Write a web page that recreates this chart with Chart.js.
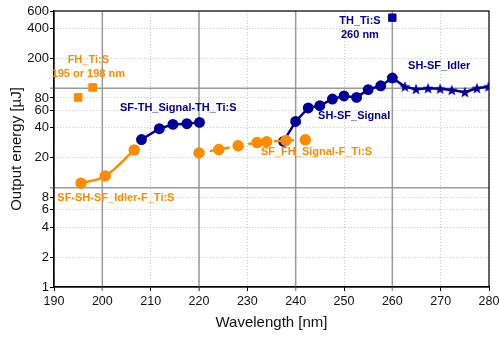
<!DOCTYPE html>
<html>
<head>
<meta charset="utf-8">
<script src="https://cdn.jsdelivr.net/npm/chart.js@4"></script>
<style>
  html, body { margin: 0; padding: 0; background: #fff; }
</style>
</head>
<body>
<canvas id="chart" width="499" height="338"></canvas>
<script>
// wavelength [nm] / output energy [uJ]
const fhX = [195, 198];
const fhY = [81, 102];
const thX = [260];
const thY = [514];
const idlerFX = [195.6, 200.6, 206.6];
const idlerFY = [11.1, 13.1, 24];
const signalTHX = [208.1, 211.8, 214.6, 217.5, 220.1];
const signalTHY = [30.5, 39.2, 43.3, 44, 45.4];
const signalFX = [220, 224.1, 228.1, 232, 234, 238, 242];
const signalFY = [22.3, 24.2, 26.4, 28.4, 29, 29.8, 30.3];
const signalSHX = [237.5, 240, 242.6, 245, 247.6, 250, 252.6, 255, 257.6, 260];
const signalSHY = [29.2, 46.4, 63.4, 67, 78, 83.8, 81, 97, 106, 127];
const idlerSHX = [260, 262.6, 264.9, 267.4, 269.9, 272.3, 275, 277.5, 279.9];
const idlerSHY = [127, 104, 98, 100, 99, 96, 91.5, 100, 104];

const yTicks = [1, 2, 4, 6, 8, 10, 20, 40, 60, 80, 100, 200, 400, 600];
const majorX = [200, 220, 240, 260];
const majorY = [10, 100];

const ORANGE = '#ff8c00';
const BLUE = '#000099';
const FONT = '"Liberation Sans", Arial, sans-serif';

const notes = [
  { text: 'FH_Ti:S', x: 197.1, y: 195, color: ORANGE },
  { text: '195 or 198 nm', x: 197.1, y: 141, color: ORANGE },
  { text: 'TH_Ti:S', x: 253.3, y: 475, color: BLUE },
  { text: '260 nm', x: 253.3, y: 341, color: BLUE },
  { text: 'SH-SF_Idler', x: 269.7, y: 167, color: BLUE },
  { text: 'SF-TH_Signal-TH_Ti:S', x: 215.7, y: 63.4, color: BLUE },
  { text: 'SH-SF_Signal', x: 252.1, y: 53, color: BLUE },
  { text: 'SF_FH_Signal-F_Ti:S', x: 244.3, y: 23.1, color: ORANGE },
  { text: 'SF-SH-SF_Idler-F_Ti:S', x: 202.8, y: 7.8, color: ORANGE },
];

const pts = (xs, ys) => xs.map((x, i) => ({ x: x, y: ys[i] }));

// filled five-point star marker
const star = document.createElement('canvas');
star.width = 12; star.height = 12;
(function () {
  const c = star.getContext('2d');
  c.fillStyle = BLUE;
  c.beginPath();
  for (let i = 0; i < 10; i++) {
    const r = i % 2 === 0 ? 6 : 2.5;
    const a = -Math.PI / 2 + i * Math.PI / 5;
    const px = 6 + r * Math.cos(a), py = 6.5 + r * Math.sin(a);
    if (i === 0) c.moveTo(px, py); else c.lineTo(px, py);
  }
  c.closePath();
  c.fill();
})();

const overlay = {
  id: 'overlay',
  beforeDatasetsDraw(chart) {
    const { ctx, chartArea: a, scales: { x, y } } = chart;
    ctx.save();
    ctx.strokeStyle = '#9a9a9a';
    ctx.lineWidth = 1.5;
    majorX.forEach(v => {
      const px = x.getPixelForValue(v);
      ctx.beginPath(); ctx.moveTo(px, a.top); ctx.lineTo(px, a.bottom + 4); ctx.stroke();
    });
    majorY.forEach(v => {
      const py = y.getPixelForValue(v);
      ctx.beginPath(); ctx.moveTo(a.left - 4, py); ctx.lineTo(a.right, py); ctx.stroke();
    });
    ctx.strokeStyle = '#000';
    ctx.lineWidth = 1.2;
    ctx.strokeRect(a.left, a.top, a.right - a.left, a.bottom - a.top);
    ctx.restore();
  },
  afterDatasetsDraw(chart) {
    const { ctx, scales: { x, y } } = chart;
    ctx.save();
    ctx.font = 'bold 11px ' + FONT;
    ctx.textAlign = 'center';
    ctx.textBaseline = 'middle';
    notes.forEach(n => {
      ctx.fillStyle = n.color;
      ctx.fillText(n.text, x.getPixelForValue(n.x), y.getPixelForValue(n.y));
    });
    ctx.restore();
  }
};

new Chart(document.getElementById('chart'), {
  type: 'scatter',
  data: {
    datasets: [
      { data: pts(idlerFX, idlerFY), showLine: true, tension: 0.35, borderColor: ORANGE, backgroundColor: ORANGE, borderWidth: 2.5, pointRadius: 4.5 },
      { data: pts(signalFX, signalFY), showLine: true, borderColor: ORANGE, backgroundColor: ORANGE, borderWidth: 2.5, borderDash: [7, 6], borderDashOffset: 2, pointRadius: 4.5 },
      { data: pts(signalTHX, signalTHY), showLine: true, borderColor: BLUE, backgroundColor: BLUE, borderWidth: 2.5, pointRadius: 4.2 },
      { data: pts(idlerSHX, idlerSHY), showLine: true, borderColor: BLUE, backgroundColor: BLUE, borderWidth: 2.5, pointStyle: star, pointRadius: 5 },
      { data: pts(signalSHX, signalSHY), showLine: true, borderColor: BLUE, backgroundColor: BLUE, borderWidth: 2.5, pointRadius: 4.2 },
      { data: pts(fhX, fhY), showLine: false, borderColor: ORANGE, backgroundColor: ORANGE, pointStyle: 'rect', pointRadius: 5.4 },
      { data: pts(thX, thY), showLine: false, borderColor: BLUE, backgroundColor: BLUE, pointStyle: 'rect', pointRadius: 5.2 },
    ]
  },
  options: {
    responsive: false,
    animation: false,
    layout: { padding: { top: 11, right: 10, left: 0, bottom: 0 } },
    plugins: { legend: { display: false }, tooltip: { enabled: false } },
    scales: {
      x: {
        type: 'linear',
        min: 190, max: 280,
        afterFit: s => { s.height = 51; s.paddingRight = 0; s.paddingLeft = 0; },
        ticks: { stepSize: 10, color: '#111', padding: 3, font: { family: FONT, size: 12.5 } },
        grid: { color: '#c8c8c8', tickColor: '#000', tickLength: 4 },
        border: { color: '#000', width: 1.2, dash: [1, 2] },
        title: { display: true, text: 'Wavelength [nm]', color: '#111', font: { family: FONT, size: 15 }, padding: { top: 2, bottom: 6 } }
      },
      y: {
        type: 'logarithmic',
        min: 1, max: 600,
        afterFit: s => { s.width = 54; },
        afterBuildTicks: s => { s.ticks = yTicks.map(v => ({ value: v })); },
        ticks: {
          color: '#111', padding: 1, font: { family: FONT, size: 13 },
          callback: v => (majorY.includes(v) ? '' : String(v))
        },
        grid: { color: '#c8c8c8', tickColor: '#000', tickLength: 4 },
        border: { color: '#000', width: 1.2, dash: [1, 2] },
        title: { display: true, text: 'Output energy [µJ]', color: '#111', font: { family: FONT, size: 15 }, padding: { top: 8, bottom: 0 } }
      }
    }
  },
  plugins: [overlay]
});
</script>
</body>
</html>
